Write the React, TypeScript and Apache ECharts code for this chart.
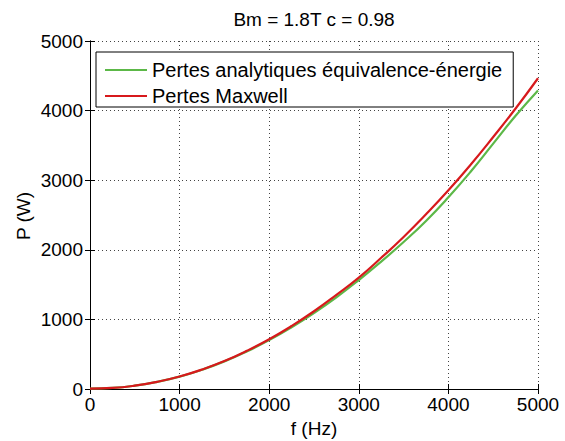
import React, { useEffect, useRef } from "react";
import * as echarts from "echarts";

const titleText = "Bm = 1.8T c = 0.98";
const xName = "f (Hz)";
const yName = "P (W)";
const seriesNames = ["Pertes analytiques équivalence-énergie", "Pertes Maxwell"];

const freqHz = [0, 250, 500, 750, 1000, 1250, 1500, 1750, 2000, 2250, 2500, 2750, 3000, 3250, 3500, 3750, 4000, 4250, 4500, 4750, 5000];
const pertesAnalytiques = [5, 15, 48, 103, 178, 277, 397, 540, 703, 888, 1093, 1318, 1565, 1830, 2112, 2415, 2755, 3125, 3525, 3925, 4290];
const pertesMaxwell = [5, 15, 48, 103, 180, 280, 402, 548, 715, 905, 1117, 1352, 1600, 1885, 2185, 2510, 2855, 3225, 3620, 4030, 4465];

const axisMin = 0;
const axisMax = 5000;
const axisStep = 1000;

const FONT = "'Liberation Sans', Arial, Helvetica, sans-serif";
const FS = 19;

export default function App() {
  const ref = useRef<HTMLDivElement>(null);
  useEffect(() => {
    if (!ref.current) return;
    const chart = echarts.init(ref.current, undefined, { renderer: "svg" });
    const gridL = 90, gridT = 41, gridW = 448, gridH = 348;
    const tickCommon = {
      axisLine: { show: true, lineStyle: { color: "#000", width: 1 } },
      axisTick: { show: true, inside: true, length: 5, lineStyle: { color: "#000", width: 1 } },
    };
    const fmt = (v: number) => String(v);
    chart.setOption({
      animation: false,
      backgroundColor: "#fff",
      textStyle: { fontFamily: FONT },
      grid: { left: gridL, top: gridT, width: gridW, height: gridH, show: false, containLabel: false },
      xAxis: [
        {
          type: "value", min: axisMin, max: axisMax, interval: axisStep, position: "bottom",
          ...tickCommon,
          axisLabel: { color: "#000", fontSize: FS, fontFamily: FONT, margin: 6, formatter: fmt, showMinLabel: true, showMaxLabel: true },
          splitLine: { show: true, lineStyle: { color: "#444", type: [1, 3], width: 1 } },
        },
        {
          type: "value", min: axisMin, max: axisMax, interval: axisStep, position: "top",
          ...tickCommon,
          axisLabel: { show: false },
          splitLine: { show: false },
        },
      ],
      yAxis: [
        {
          type: "value", min: axisMin, max: axisMax, interval: axisStep, position: "left",
          ...tickCommon,
          axisLabel: { color: "#000", fontSize: FS, fontFamily: FONT, margin: 7, formatter: fmt, showMinLabel: true, showMaxLabel: true },
          splitLine: { show: true, lineStyle: { color: "#444", type: [1, 3], width: 1 } },
        },
        {
          type: "value", min: axisMin, max: axisMax, interval: axisStep, position: "right",
          ...tickCommon,
          axisLabel: { show: false },
          splitLine: { show: false },
        },
      ],
      legend: {
        orient: "vertical",
        left: 96,
        top: 52,
        padding: [8, 11, 1, 9],
        itemGap: 6,
        itemWidth: 42,
        itemHeight: 2,
        icon: "rect",
        backgroundColor: "#fff",
        borderColor: "#000",
        borderWidth: 1,
        borderRadius: 0,
        textStyle: { color: "#000", fontSize: 20, fontFamily: FONT, lineHeight: 20 },
        data: seriesNames,
      },
      graphic: [
        { type: "text", x: 314, y: 19, style: { text: titleText, fill: "#000", font: `${FS}px ${FONT}`, align: "center", verticalAlign: "middle" } },
        { type: "text", x: 314, y: 428, style: { text: xName, fill: "#000", font: `${FS}px ${FONT}`, align: "center", verticalAlign: "middle" } },
        { type: "text", x: 23, y: 216, rotation: Math.PI / 2, style: { text: yName, fill: "#000", font: `${FS}px ${FONT}`, align: "center", verticalAlign: "middle" } },
      ],
      series: [
        {
          name: seriesNames[0], type: "line", smooth: true, symbol: "none",
          itemStyle: { color: "#5cb848" },
          lineStyle: { color: "#5cb848", width: 2.2 },
          data: freqHz.map((f, i) => [f, pertesAnalytiques[i]]),
        },
        {
          name: seriesNames[1], type: "line", smooth: true, symbol: "none",
          itemStyle: { color: "#d7191c" },
          lineStyle: { color: "#d7191c", width: 2.2 },
          data: freqHz.map((f, i) => [f, pertesMaxwell[i]]),
        },
      ],
    });
    return () => chart.dispose();
  }, []);
  return <div ref={ref} style={{ position: "fixed", left: 0, top: 0, width: 565, height: 441 }} />;
}
